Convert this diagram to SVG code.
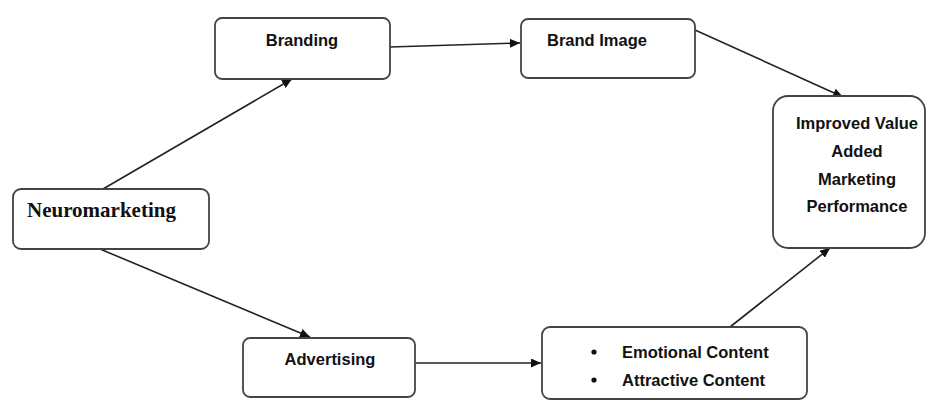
<svg xmlns="http://www.w3.org/2000/svg" width="936" height="401" viewBox="0 0 936 401">
<style>
.box{fill:#fff;stroke:#444;stroke-width:1.8}
.t{font-family:"Liberation Sans",Arial,sans-serif;font-weight:bold;font-size:16.5px;fill:#111}
.ts{font-family:"Liberation Serif","Times New Roman",serif;font-weight:bold;font-size:21px;fill:#111}
.c{fill:none;stroke:#222;stroke-width:1.6}
</style>
<defs>
<marker id="ah" viewBox="0 0 10 10" refX="10" refY="5" markerWidth="10" markerHeight="9" orient="auto" markerUnits="userSpaceOnUse" preserveAspectRatio="none">
<path d="M0,0 L10,5 L0,10 Z" fill="#111"/>
</marker>
</defs>
<rect width="936" height="401" fill="#fff"/>
<g id="connectors">
<line class="c" x1="103" y1="189" x2="292" y2="79" marker-end="url(#ah)"/>
<line class="c" x1="100" y1="249" x2="310" y2="337" marker-end="url(#ah)"/>
<line class="c" x1="390" y1="47" x2="520" y2="43" marker-end="url(#ah)"/>
<line class="c" x1="695" y1="30" x2="843" y2="97" marker-end="url(#ah)"/>
<line class="c" x1="415" y1="363" x2="541" y2="363" marker-end="url(#ah)"/>
<line class="c" x1="730" y1="327" x2="830" y2="248" marker-end="url(#ah)"/>
</g>
<g id="neuromarketing">
<rect class="box" x="13" y="189" width="196" height="60" rx="8"/>
<text class="ts" x="27" y="217">Neuromarketing</text>
</g>
<g id="branding">
<rect class="box" x="215" y="18" width="175" height="61" rx="7"/>
<text class="t" x="302" y="46" text-anchor="middle">Branding</text>
</g>
<g id="brand-image">
<rect class="box" x="521" y="19" width="174" height="59" rx="7"/>
<text class="t" x="547" y="46">Brand Image</text>
</g>
<g id="improved">
<rect class="box" x="773" y="96" width="152" height="152" rx="15"/>
<text class="t" x="857" y="129" text-anchor="middle">Improved Value</text>
<text class="t" x="857" y="157" text-anchor="middle">Added</text>
<text class="t" x="857" y="185" text-anchor="middle">Marketing</text>
<text class="t" x="857" y="212" text-anchor="middle">Performance</text>
</g>
<g id="advertising">
<rect class="box" x="243" y="338" width="172" height="59" rx="7"/>
<text class="t" x="330" y="365" text-anchor="middle">Advertising</text>
</g>
<g id="content">
<rect class="box" x="542" y="327" width="265" height="72" rx="8"/>
<circle cx="594" cy="352" r="2.6" fill="#111"/>
<circle cx="594" cy="380" r="2.6" fill="#111"/>
<text class="t" x="622" y="358">Emotional Content</text>
<text class="t" x="622" y="386">Attractive Content</text>
</g>
</svg>
